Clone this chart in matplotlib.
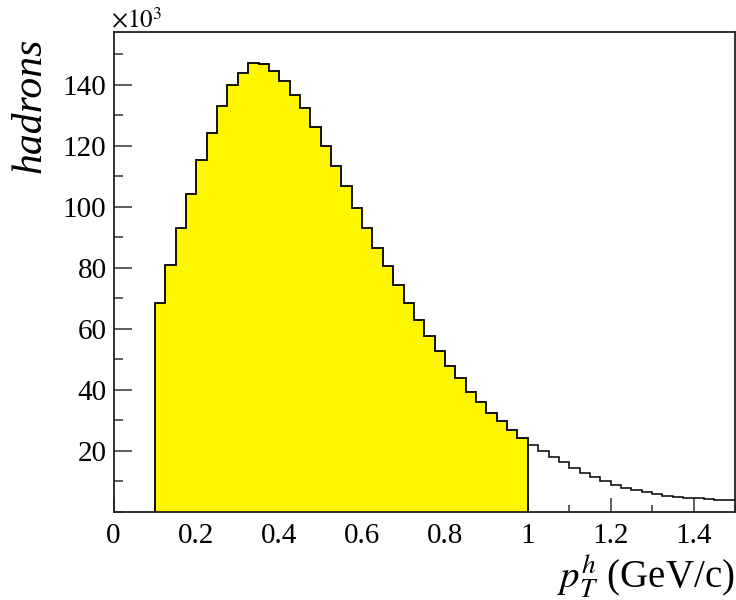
import matplotlib
matplotlib.use("Agg")
import matplotlib.pyplot as plt
import numpy as np
from matplotlib.ticker import MultipleLocator, FixedLocator

plt.rcParams['font.family'] = ['Liberation Serif', 'DejaVu Serif']
plt.rcParams['mathtext.fontset'] = 'stix'

# pT^h histogram, bins of 0.025 GeV/c starting at 0.1 (counts in units of 10^3)
bin_start = 0.1
bin_width = 0.025
hadrons = [68.4, 80.8, 93.2, 104.2, 115.3, 124.3, 133.2, 140.1, 143.8, 147.1,
           146.8, 144.7, 141.4, 136.8, 132.5, 126.3, 120.0, 113.4, 106.9, 99.7,
           93.0, 86.6, 80.6, 74.4, 68.4, 62.8, 57.6, 52.7, 47.8, 43.8,
           39.4, 35.9, 32.5, 29.9, 26.8, 24.3, 21.9, 19.9, 18.0, 16.2,
           14.4, 12.8, 11.3, 10.1, 8.8, 7.9, 7.1, 6.4, 5.8, 5.2,
           4.9, 4.6, 4.4, 4.2, 3.9, 3.7]
n_filled = 36  # bins up to 1.0 GeV/c are shaded

x_ticks = [0, 0.2, 0.4, 0.6, 0.8, 1.0, 1.2, 1.4]
x_tick_labels = ['0', '0.2', '0.4', '0.6', '0.8', '1', '1.2', '1.4']
y_ticks = [20, 40, 60, 80, 100, 120, 140]

counts = np.array(hadrons)
edges = bin_start + bin_width * np.arange(len(counts) + 1)

fig = plt.figure(figsize=(7.36, 6.0), dpi=100)
ax = fig.add_axes([113.5 / 736, 88.3 / 600, 621.5 / 736, 479.5 / 600])

ax.stairs(counts[:n_filled], edges[:n_filled + 1], fill=True,
          facecolor='#fff700', edgecolor='none', zorder=2)
ax.stairs(counts[:n_filled], edges[:n_filled + 1], baseline=0,
          color='black', lw=1.3, zorder=3)
ax.stairs(counts[n_filled:], edges[n_filled:], baseline=None,
          color='black', lw=1.1, zorder=3)

ax.set_xlim(0, 1.5)
ax.set_ylim(0, 157.3)

ax.xaxis.set_major_locator(FixedLocator(x_ticks))
ax.set_xticklabels(x_tick_labels)
ax.xaxis.set_minor_locator(MultipleLocator(0.1))
ax.yaxis.set_major_locator(FixedLocator(y_ticks))
ax.yaxis.set_minor_locator(MultipleLocator(10))

ax.tick_params(which='both', direction='in', top=False, right=False,
               labelsize=21, width=1.1, color='#333333')
ax.tick_params(axis='y', which='major', length=13, pad=5)
ax.tick_params(axis='y', which='minor', length=6.5)
ax.tick_params(axis='x', which='major', length=10, pad=8)
ax.tick_params(axis='x', which='minor', length=5)
for s in ax.spines.values():
    s.set_linewidth(1.3)
    s.set_color('#222222')

fig.text(30 / 736, 1 - 38 / 600, 'hadrons', rotation=90, ha='center', va='top',
         fontsize=30, fontstyle='italic')
fig.text(735 / 736, 1 - 588 / 600, r'$p_{T}^{h}$ (GeV/c)', ha='right',
         va='baseline', fontsize=28)
fig.text(111 / 736, 1 - 33 / 600, r'$\times10^{3}$', ha='left', va='bottom',
         fontsize=18)

fig.savefig('out.png', dpi=100)
